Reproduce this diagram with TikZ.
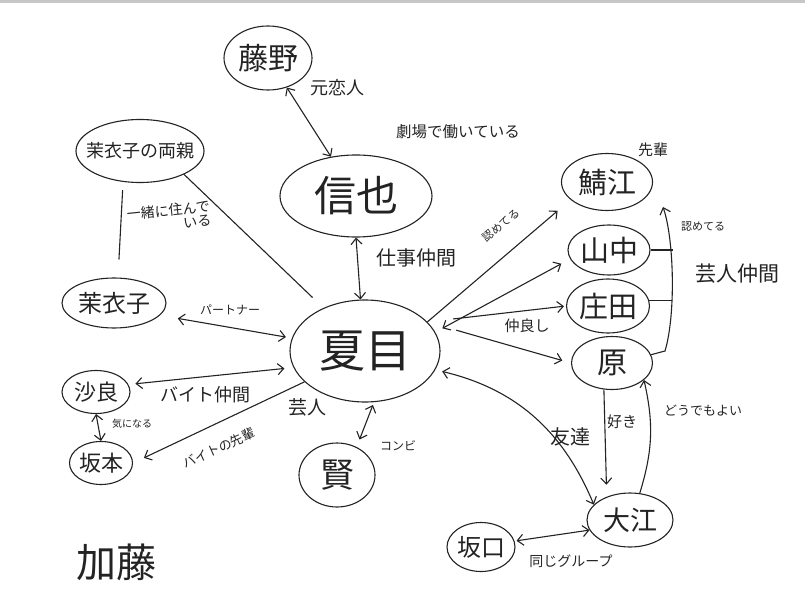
\documentclass[tikz,border=0pt]{standalone}
\usepackage{fontspec}
\setmainfont{Noto Sans CJK JP}
\usepackage{tikz}
\usetikzlibrary{arrows.meta,shapes.geometric}
\definecolor{ink}{RGB}{35,35,35}
\newcommand{\fsz}[1]{\fontsize{#1}{#1}\selectfont}

\begin{document}
\begin{tikzpicture}[x=1pt, y=1pt, color=ink, line width=1.1pt,
      >={Straight Barb[length=6pt,width=11pt]},
      every node/.append style={inner sep=0pt}]
    \tikzstyle{person} = [draw, ellipse, inner sep=0pt]
    \tikzstyle{relation} = [font=\fsz{13}]
    \useasboundingbox (0,0) rectangle (805,614);
    \fill[black!22] (0,611) rectangle (805,614);
    \node (natsume) [person, minimum width=150pt, minimum height=102pt, font=\fsz{46}] at (365,263) {夏目};
    \node (shinya) [person, minimum width=152pt, minimum height=82pt, font=\fsz{42}] at (356,418) {信也};
    \node (fujino) [person, minimum width=88pt, minimum height=64pt, font=\fsz{30}] at (268,556) {藤野};
    \node (parents) [person, inner xsep=-10pt, minimum width=128pt, minimum height=63pt, font=\fsz{18}] at (140,463) {茉衣子の両親};
    \node (maiko) [person, minimum width=104pt, minimum height=50pt, font=\fsz{24}] at (114,311) {茉衣子};
    \node (sara) [person, minimum width=68pt, minimum height=43pt, font=\fsz{22}] at (96,222) {沙良};
    \node (sakamoto) [person, minimum width=63pt, minimum height=43pt, font=\fsz{22}] at (101,151) {坂本};
    \node (ken) [person, minimum width=76pt, minimum height=64pt, font=\fsz{34}] at (337,139) {賢};
    \node (sabae) [person, minimum width=91pt, minimum height=57pt, font=\fsz{29}] at (607,432) {鯖江};
    \node (yamanaka) [person, minimum width=82pt, minimum height=50pt, font=\fsz{29}] at (609,364) {山中};
    \node (shoda) [person, minimum width=83pt, minimum height=54pt, font=\fsz{29}] at (608,308) {庄田};
    \node (hara) [person, minimum width=81pt, minimum height=53pt, font=\fsz{30}] at (612,251) {原};
    \node (oe) [person, minimum width=86pt, minimum height=54pt, font=\fsz{27}] at (630,94) {大江};
    \node (sakaguchi) [person, minimum width=68pt, minimum height=49pt, font=\fsz{24}] at (481,67) {坂口};
    \node (kato) [font=\fsz{40}] at (116,52) {加藤};

    \draw[<->] (fujino) -- (shinya);
    \draw[<->] (shinya.south) -- (natsume.95);
    \draw[shorten <=7pt, shorten >=18pt] ([xshift=-17pt]parents.south) -- ([xshift=4pt]maiko.north);
    \draw[shorten >=15pt] (parents.-28) -- (natsume.134);
    \draw[<->, shorten <=18pt, shorten >=6pt] (maiko.-15) -- (natsume.170);
    \draw[<->, shorten <=7pt, shorten >=9pt] (sara.13) -- (natsume.193);
    \draw[->, shorten >=12pt] (natsume.207) -- (sakamoto.east);
    \draw[<->] (sara.south) -- (sakamoto.north);
    \draw[<->, shorten <=3pt, shorten >=8pt] (natsume.-80) -- (ken.55);
    \draw[->, shorten >=17pt] (natsume.25) -- (sabae.206);
    \draw[<->, shorten <=8pt, shorten >=10pt] (natsume.15) -- (yamanaka.193);
    \draw[->, shorten <=26pt, shorten >=2pt] (natsume.25) -- (shoda.west);
    \draw[->, shorten <=30pt, shorten >=9pt] (natsume.25) -- (hara.west);
    \draw[<->, shorten <=7pt] (natsume.-15) to[bend left=27] (oe.157);
    \draw[->, shorten >=12pt] (hara.-107) -- (oe.135);
    \draw[->] (oe.70) to[bend right=15] (hara.-28);
    \draw[<->, shorten <=2pt] (sakaguchi.10) -- (oe.194);
    \coordinate (railbot) at (665,263);
    \coordinate (railtop) at (663,407);
    \draw[->] (hara.12) -- (railbot) .. controls (676,300) and (674,375) .. (railtop);
    \draw (yamanaka.east) -- ++(22,0);
    \draw (shoda.8) -- ++(23,0);

    \node (exlover) [relation, font=\fsz{18}] at (337,526) {元恋人};
    \node (theater) [relation, font=\fsz{15.5}] at (458,482) {劇場で働いている};
    \node (coworker) [relation, font=\fsz{20}] at (416,356) {仕事仲間};
    \node (livewith) [relation, font=\fsz{14}, align=right, rotate=6] at (169,397) {一緒に住んで\\いる};
    \node (partner) [relation, font=\fsz{12}] at (230,304) {パートナー};
    \node (jobmate) [relation, font=\fsz{18}] at (205,219) {バイト仲間};
    \node (geinin) [relation, font=\fsz{19}] at (307,207) {芸人};
    \node (crush) [relation, font=\fsz{10}] at (132,190) {気になる};
    \node (jobsenior) [relation, font=\fsz{13}, rotate=24] at (219,166) {バイトの先輩};
    \node (combi) [relation, font=\fsz{12}] at (398,168) {コンビ};
    \node (respectA) [relation, font=\fsz{11}, rotate=40] at (501,389) {認めてる};
    \node (respectB) [relation, font=\fsz{11}] at (703,388) {認めてる};
    \node (senior) [relation, font=\fsz{15}] at (653,464) {先輩};
    \node (comrades) [relation, font=\fsz{21}] at (737,340) {芸人仲間};
    \node (closefriend) [relation, font=\fsz{15}] at (527,288) {仲良し};
    \node (friend) [relation, font=\fsz{20}] at (570,177) {友達};
    \node (likes) [relation, font=\fsz{15}] at (622,192) {好き};
    \node (whatever) [relation, font=\fsz{13}] at (703,203) {どうでもよい};
    \node (samegroup) [relation, font=\fsz{14}] at (571,53) {同じグループ};
\end{tikzpicture}
\end{document}
